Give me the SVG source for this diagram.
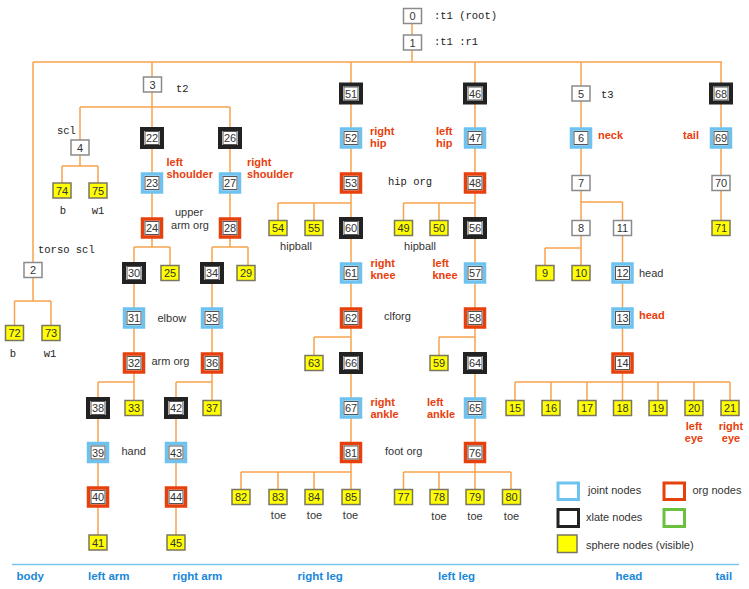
<svg xmlns="http://www.w3.org/2000/svg" xmlns:xlink="http://www.w3.org/1999/xlink" width="749" height="589" viewBox="0 0 749 589">
<style>
.c{stroke:#f6a24e;stroke-width:1.5;fill:none}
.p{fill:#fff;stroke:#8a8a8a;stroke-width:1.5}
.s{fill:#ffff00;stroke:#7a7560;stroke-width:1.5}
.jo{fill:#fff;stroke:#6ec2f0;stroke-width:3.5}
.oo{fill:#fff;stroke:#e6400c;stroke-width:3.5}
.xo{fill:#fff;stroke:#222;stroke-width:4}
.in{fill:#fff;stroke:#555;stroke-width:1}
.n{font-family:"Liberation Sans",Arial,sans-serif;font-size:11px;fill:#333;text-anchor:middle}
.m{font-family:"Liberation Mono","Courier New",monospace;font-size:10.5px;fill:#222}
.g{font-family:"Liberation Sans",Arial,sans-serif;font-size:11px;fill:#333}
.r{font-family:"Liberation Sans",Arial,sans-serif;font-size:11px;font-weight:bold;fill:#e8400c}
.b{font-family:"Liberation Sans",Arial,sans-serif;font-size:11.5px;font-weight:bold;fill:#1a88d8}
.mid{text-anchor:middle}
</style>
<defs>
<g id="P"><rect class="p" x="-9" y="-7.5" width="18" height="15"/></g>
<g id="S"><rect class="s" x="-9" y="-7.5" width="18" height="15"/></g>
<g id="J"><rect class="jo" x="-9.5" y="-9" width="19" height="18"/><rect class="in" x="-7" y="-6.5" width="14" height="13"/></g>
<g id="O"><rect class="oo" x="-9.5" y="-9" width="19" height="18"/><rect class="in" x="-7" y="-6.5" width="14" height="13"/></g>
<g id="X"><rect class="xo" x="-10" y="-9" width="20" height="18"/><rect class="in" x="-7" y="-6.5" width="14" height="13"/></g>
</defs>
<g id="connectors">
<path class="c" d="M412 24V35M412 50V62M33 62H722M33 62V262.5M152 62V77M351 62V84M475 62V84M581 62V86M721 62V84"/>
<path class="c" d="M33 277.5V301M14.5 301H51M14.5 301V325.5M51 301V325.5"/>
<path class="c" d="M152 92V107M80 107H230M80 107V140M80 155V166M62 166H98M62 166V183M98 166V183"/>
<path class="c" d="M152 107V247M134 247H170M134 247V382M170 247V265M98 382H134M98 382V535M134 382V400"/>
<path class="c" d="M230 107V247M212 247H248M212 247V382M248 247V265M176 382H212M176 382V535M212 382V400"/>
<path class="c" d="M351 94V203M278 203H351M278 203V220M314 203V220M351 203V337M314 337H351M314 337V355M351 337V472M241 472H351M241 472V489M278 472V489M314 472V489M351 472V489"/>
<path class="c" d="M475 94V203M403.5 203H475M403.5 203V220M439 203V220M475 203V337M439 337H475M439 337V355M475 337V472M403.5 472H511M403.5 472V489M439 472V489M475 472V489M511 472V489"/>
<path class="c" d="M581 94V202M581 202H622.5M581 202V220M622.5 202V382M581 236V248M545 248H581M545 248V265M581 248V265M515 382H730M515 382V400M551 382V400M587 382V400M622.5 382V400M658 382V400M694 382V400M730 382V400"/>
<path class="c" d="M721 94V220"/>
</g>
<g id="n0" transform="translate(412.5,16)"><use href="#P"/><text class="n" y="4">0</text></g>
<g id="n1" transform="translate(412.5,42.5)"><use href="#P"/><text class="n" y="4">1</text></g>
<g id="n2" transform="translate(33,270)"><use href="#P"/><text class="n" y="4">2</text></g>
<g id="n72" transform="translate(14.5,333)"><use href="#S"/><text class="n" y="4">72</text></g>
<g id="n73" transform="translate(51,333)"><use href="#S"/><text class="n" y="4">73</text></g>
<g id="n3" transform="translate(152.5,84.5)"><use href="#P"/><text class="n" y="4">3</text></g>
<g id="n4" transform="translate(80,147.5)"><use href="#P"/><text class="n" y="4">4</text></g>
<g id="n74" transform="translate(62,190.5)"><use href="#S"/><text class="n" y="4">74</text></g>
<g id="n75" transform="translate(98,190.5)"><use href="#S"/><text class="n" y="4">75</text></g>
<g id="n22" transform="translate(152,138)"><use href="#X"/><text class="n" y="4">22</text></g>
<g id="n23" transform="translate(152,183)"><use href="#J"/><text class="n" y="4">23</text></g>
<g id="n24" transform="translate(152,228)"><use href="#O"/><text class="n" y="4">24</text></g>
<g id="n30" transform="translate(134,273)"><use href="#X"/><text class="n" y="4">30</text></g>
<g id="n25" transform="translate(170,273)"><use href="#S"/><text class="n" y="4">25</text></g>
<g id="n31" transform="translate(134,318)"><use href="#J"/><text class="n" y="4">31</text></g>
<g id="n32" transform="translate(134,363)"><use href="#O"/><text class="n" y="4">32</text></g>
<g id="n38" transform="translate(98,408)"><use href="#X"/><text class="n" y="4">38</text></g>
<g id="n33" transform="translate(134,408)"><use href="#S"/><text class="n" y="4">33</text></g>
<g id="n39" transform="translate(98,452.5)"><use href="#J"/><text class="n" y="4">39</text></g>
<g id="n40" transform="translate(98,497)"><use href="#O"/><text class="n" y="4">40</text></g>
<g id="n41" transform="translate(98,542.5)"><use href="#S"/><text class="n" y="4">41</text></g>
<g id="n26" transform="translate(230,138)"><use href="#X"/><text class="n" y="4">26</text></g>
<g id="n27" transform="translate(230,183)"><use href="#J"/><text class="n" y="4">27</text></g>
<g id="n28" transform="translate(230,228)"><use href="#O"/><text class="n" y="4">28</text></g>
<g id="n34" transform="translate(212,273)"><use href="#X"/><text class="n" y="4">34</text></g>
<g id="n29" transform="translate(246,273)"><use href="#S"/><text class="n" y="4">29</text></g>
<g id="n35" transform="translate(212,318)"><use href="#J"/><text class="n" y="4">35</text></g>
<g id="n36" transform="translate(212,363)"><use href="#O"/><text class="n" y="4">36</text></g>
<g id="n42" transform="translate(176,408)"><use href="#X"/><text class="n" y="4">42</text></g>
<g id="n37" transform="translate(212,408)"><use href="#S"/><text class="n" y="4">37</text></g>
<g id="n43" transform="translate(176,452.5)"><use href="#J"/><text class="n" y="4">43</text></g>
<g id="n44" transform="translate(176,497)"><use href="#O"/><text class="n" y="4">44</text></g>
<g id="n45" transform="translate(176,542.5)"><use href="#S"/><text class="n" y="4">45</text></g>
<g id="n51" transform="translate(351,93.5)"><use href="#X"/><text class="n" y="4">51</text></g>
<g id="n52" transform="translate(351,138)"><use href="#J"/><text class="n" y="4">52</text></g>
<g id="n53" transform="translate(351,183)"><use href="#O"/><text class="n" y="4">53</text></g>
<g id="n54" transform="translate(278,228)"><use href="#S"/><text class="n" y="4">54</text></g>
<g id="n55" transform="translate(314,228)"><use href="#S"/><text class="n" y="4">55</text></g>
<g id="n60" transform="translate(351,228)"><use href="#X"/><text class="n" y="4">60</text></g>
<g id="n61" transform="translate(351,273)"><use href="#J"/><text class="n" y="4">61</text></g>
<g id="n62" transform="translate(351,318)"><use href="#O"/><text class="n" y="4">62</text></g>
<g id="n63" transform="translate(314,363)"><use href="#S"/><text class="n" y="4">63</text></g>
<g id="n66" transform="translate(351,363)"><use href="#X"/><text class="n" y="4">66</text></g>
<g id="n67" transform="translate(351,408)"><use href="#J"/><text class="n" y="4">67</text></g>
<g id="n81" transform="translate(351,452.5)"><use href="#O"/><text class="n" y="4">81</text></g>
<g id="n82" transform="translate(241,497)"><use href="#S"/><text class="n" y="4">82</text></g>
<g id="n83" transform="translate(278,497)"><use href="#S"/><text class="n" y="4">83</text></g>
<g id="n84" transform="translate(314,497)"><use href="#S"/><text class="n" y="4">84</text></g>
<g id="n85" transform="translate(351,497)"><use href="#S"/><text class="n" y="4">85</text></g>
<g id="n46" transform="translate(475,93.5)"><use href="#X"/><text class="n" y="4">46</text></g>
<g id="n47" transform="translate(475,138)"><use href="#J"/><text class="n" y="4">47</text></g>
<g id="n48" transform="translate(475,183)"><use href="#O"/><text class="n" y="4">48</text></g>
<g id="n49" transform="translate(403.5,228)"><use href="#S"/><text class="n" y="4">49</text></g>
<g id="n50" transform="translate(439,228)"><use href="#S"/><text class="n" y="4">50</text></g>
<g id="n56" transform="translate(475,228)"><use href="#X"/><text class="n" y="4">56</text></g>
<g id="n57" transform="translate(475,273)"><use href="#J"/><text class="n" y="4">57</text></g>
<g id="n58" transform="translate(475,318)"><use href="#O"/><text class="n" y="4">58</text></g>
<g id="n59" transform="translate(439,363)"><use href="#S"/><text class="n" y="4">59</text></g>
<g id="n64" transform="translate(475,363)"><use href="#X"/><text class="n" y="4">64</text></g>
<g id="n65" transform="translate(475,408)"><use href="#J"/><text class="n" y="4">65</text></g>
<g id="n76" transform="translate(475,452.5)"><use href="#O"/><text class="n" y="4">76</text></g>
<g id="n77" transform="translate(403.5,497)"><use href="#S"/><text class="n" y="4">77</text></g>
<g id="n78" transform="translate(439,497)"><use href="#S"/><text class="n" y="4">78</text></g>
<g id="n79" transform="translate(475,497)"><use href="#S"/><text class="n" y="4">79</text></g>
<g id="n80" transform="translate(511.5,497)"><use href="#S"/><text class="n" y="4">80</text></g>
<g id="n5" transform="translate(581,93.5)"><use href="#P"/><text class="n" y="4">5</text></g>
<g id="n6" transform="translate(581,138)"><use href="#J"/><text class="n" y="4">6</text></g>
<g id="n7" transform="translate(581,183)"><use href="#P"/><text class="n" y="4">7</text></g>
<g id="n8" transform="translate(581,228)"><use href="#P"/><text class="n" y="4">8</text></g>
<g id="n11" transform="translate(622.5,228)"><use href="#P"/><text class="n" y="4">11</text></g>
<g id="n9" transform="translate(545,273)"><use href="#S"/><text class="n" y="4">9</text></g>
<g id="n10" transform="translate(581,273)"><use href="#S"/><text class="n" y="4">10</text></g>
<g id="n12" transform="translate(622.5,273)"><use href="#J"/><text class="n" y="4">12</text></g>
<g id="n13" transform="translate(622.5,318)"><use href="#J"/><text class="n" y="4">13</text></g>
<g id="n14" transform="translate(622.5,363)"><use href="#O"/><text class="n" y="4">14</text></g>
<g id="n15" transform="translate(515,408)"><use href="#S"/><text class="n" y="4">15</text></g>
<g id="n16" transform="translate(551,408)"><use href="#S"/><text class="n" y="4">16</text></g>
<g id="n17" transform="translate(587,408)"><use href="#S"/><text class="n" y="4">17</text></g>
<g id="n18" transform="translate(622.5,408)"><use href="#S"/><text class="n" y="4">18</text></g>
<g id="n19" transform="translate(658,408)"><use href="#S"/><text class="n" y="4">19</text></g>
<g id="n20" transform="translate(694,408)"><use href="#S"/><text class="n" y="4">20</text></g>
<g id="n21" transform="translate(730,408)"><use href="#S"/><text class="n" y="4">21</text></g>
<g id="n68" transform="translate(721,93.5)"><use href="#X"/><text class="n" y="4">68</text></g>
<g id="n69" transform="translate(721,138)"><use href="#J"/><text class="n" y="4">69</text></g>
<g id="n70" transform="translate(721,183)"><use href="#P"/><text class="n" y="4">70</text></g>
<g id="n71" transform="translate(721,228)"><use href="#S"/><text class="n" y="4">71</text></g>
<g id="labels">
<text class="m" x="434" y="19">:t1 (root)</text>
<text class="m" x="434" y="45">:t1 :r1</text>
<text class="m" x="176" y="92">t2</text>
<text class="m" x="57" y="134">scl</text>
<text class="m mid" x="63" y="214">b</text>
<text class="m mid" x="98" y="214">w1</text>
<text class="m" x="38" y="253">torso scl</text>
<text class="m mid" x="13" y="357">b</text>
<text class="m mid" x="50" y="357">w1</text>
<text class="m" x="601" y="98">t3</text>
<text class="m" x="388" y="185">hip org</text>
<text class="r" x="166.5" y="166">left</text>
<text class="r" x="166.5" y="178">shoulder</text>
<text class="r" x="247" y="166">right</text>
<text class="r" x="247" y="178">shoulder</text>
<text class="r" x="370" y="135">right</text>
<text class="r" x="370" y="147">hip</text>
<text class="r" x="436" y="135">left</text>
<text class="r" x="436" y="147">hip</text>
<text class="r" x="598" y="139">neck</text>
<text class="r" x="699" y="139" text-anchor="end">tail</text>
<text class="r" x="370.5" y="267">right</text>
<text class="r" x="370.5" y="279">knee</text>
<text class="r" x="432.5" y="267">left</text>
<text class="r" x="432.5" y="279">knee</text>
<text class="r" x="370.5" y="406">right</text>
<text class="r" x="370.5" y="418">ankle</text>
<text class="r" x="427" y="406">left</text>
<text class="r" x="427" y="418">ankle</text>
<text class="r" x="639" y="319">head</text>
<text class="r mid" x="694" y="430">left</text>
<text class="r mid" x="694" y="442">eye</text>
<text class="r mid" x="731" y="430">right</text>
<text class="r mid" x="731" y="442">eye</text>
<text class="g mid" x="189" y="216">upper</text>
<text class="g mid" x="190" y="229">arm org</text>
<text class="g" x="157.5" y="322">elbow</text>
<text class="g" x="151.5" y="365">arm org</text>
<text class="g" x="121.5" y="455">hand</text>
<text class="g mid" x="296" y="250">hipball</text>
<text class="g mid" x="420" y="250">hipball</text>
<text class="g" x="384" y="320">clforg</text>
<text class="g" x="385" y="455">foot org</text>
<text class="g" x="639" y="277">head</text>
<text class="g mid" x="278.5" y="519">toe</text>
<text class="g mid" x="314.5" y="519">toe</text>
<text class="g mid" x="350.5" y="519">toe</text>
<text class="g mid" x="439" y="520">toe</text>
<text class="g mid" x="475" y="520">toe</text>
<text class="g mid" x="511.5" y="520">toe</text>
</g>
<g id="legend">
<rect x="558" y="483" width="20.5" height="16.5" fill="#fff" stroke="#6ec2f0" stroke-width="3"/>
<text class="g" x="588" y="494">joint nodes</text>
<rect x="664" y="483" width="20.5" height="16.5" fill="#fff" stroke="#e6400c" stroke-width="3"/>
<text class="g" x="692.5" y="494">org nodes</text>
<rect x="558" y="509.5" width="20.5" height="17" fill="#fff" stroke="#222" stroke-width="3"/>
<text class="g" x="586" y="521">xlate nodes</text>
<rect x="664" y="509.5" width="20.5" height="17" fill="#fff" stroke="#6cc040" stroke-width="3"/>
<rect x="557.5" y="535" width="19.5" height="17.5" fill="#ffff00" stroke="#7a7560" stroke-width="1.5"/>
<text class="g" x="586" y="549">sphere nodes (visible)</text>
</g>
<g id="categories">
<path d="M12 564.5H739" stroke="#7cc4f0" stroke-width="1.5" fill="none"/>
<text class="b" x="16.5" y="580">body</text>
<text class="b" x="88" y="580">left arm</text>
<text class="b" x="172.5" y="580">right arm</text>
<text class="b" x="297.5" y="580">right leg</text>
<text class="b" x="438" y="580">left leg</text>
<text class="b" x="615.5" y="580">head</text>
<text class="b" x="715.5" y="580">tail</text>
</g>
</svg>
